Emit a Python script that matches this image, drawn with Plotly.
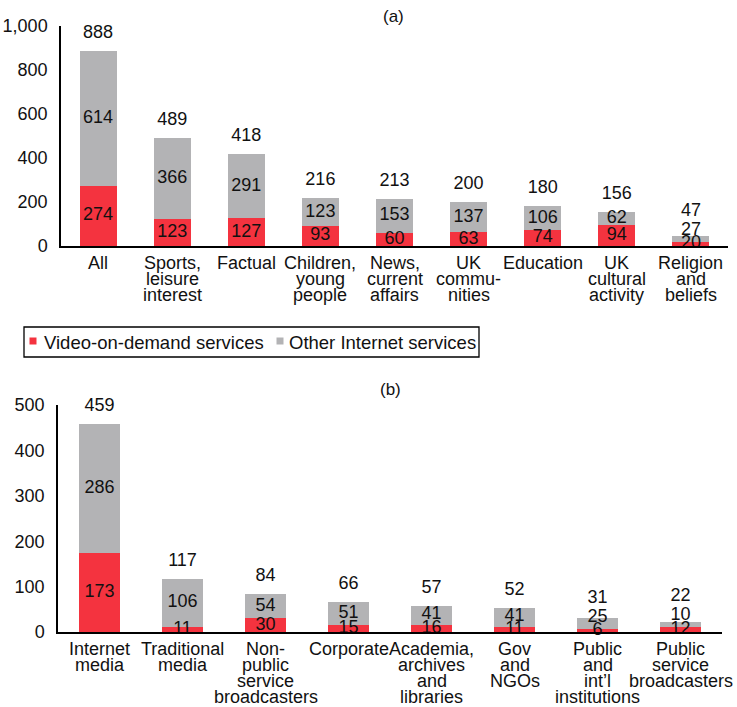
import plotly.graph_objects as go

W, H = 737, 707

# (a) programme genres
genres = ["All", "Sports,\nleisure\ninterest", "Factual", "Children,\nyoung\npeople",
          "News,\ncurrent\naffairs", "UK\ncommu-\nnities", "Education",
          "UK\ncultural\nactivity", "Religion\nand\nbeliefs"]
genre_vod = [274, 123, 127, 93, 60, 63, 74, 94, 20]
genre_other = [614, 366, 291, 123, 153, 137, 106, 62, 27]

# (b) provider types
providers = ["Internet\nmedia", "Traditional\nmedia", "Non-\npublic\nservice\nbroadcasters",
             "Corporate", "Academia,\narchives\nand\nlibraries", "Gov\nand\nNGOs",
             "Public\nand\nint’l\ninstitutions", "Public\nservice\nbroadcasters"]
provider_vod = [173, 11, 30, 15, 16, 11, 6, 12]
provider_other = [286, 106, 54, 51, 41, 41, 25, 10]

series_names = ["Video-on-demand services", "Other Internet services"]
RED = "#F4333F"
GREY = "#B3B3B5"
FONT = "Liberation Sans, Arial, Helvetica, sans-serif"
FS = 18


def px_x(p):
    return p / W


def px_y(p):
    return 1 - p / H


# pixel frames of the two plot areas: left, right, top(value max), bottom(zero)
panels = [
    dict(cats=genres, vod=genre_vod, other=genre_other, ymax=1000,
         left=61, right=728, top=26, bottom=246, tag="(a)", tag_xy=(393, 16)),
    dict(cats=providers, vod=provider_vod, other=provider_other, ymax=500,
         left=58, right=722, top=405, bottom=632, tag="(b)", tag_xy=(390, 390)),
]

fig = go.Figure()
annotations = []
layout_axes = {}

for i, p in enumerate(panels):
    sfx = "" if i == 0 else str(i + 1)
    xa, ya = "x" + sfx, "y" + sfx
    ppu = (p["bottom"] - p["top"]) / p["ymax"]  # pixels per unit

    fig.add_trace(go.Bar(x=p["cats"], y=p["vod"], name=series_names[0],
                         marker=dict(color=RED, line_width=0), xaxis=xa, yaxis=ya,
                         showlegend=False))
    fig.add_trace(go.Bar(x=p["cats"], y=p["other"], name=series_names[1],
                         marker=dict(color=GREY, line_width=0), xaxis=xa, yaxis=ya,
                         showlegend=False))

    # value labels: segment midpoints, nudged apart when they would collide
    red_y, grey_y, tot_y, tot_txt = [], [], [], []
    for v, o in zip(p["vod"], p["other"]):
        r = v / 2
        g = max(v + o / 2, r + 13.5 / ppu)
        t = max(v + o + 17.5 / ppu, g + 19 / ppu)
        red_y.append(r)
        grey_y.append(g)
        tot_y.append(t)
        tot_txt.append(str(v + o))
    for ys, txt in [(red_y, [str(v) for v in p["vod"]]),
                    (grey_y, [str(o) for o in p["other"]]),
                    (tot_y, tot_txt)]:
        fig.add_trace(go.Scatter(x=p["cats"], y=ys, text=txt, mode="text",
                                 textposition="middle center",
                                 textfont=dict(family=FONT, size=FS, color="#111111"),
                                 xaxis=xa, yaxis=ya, showlegend=False,
                                 cliponaxis=False, hoverinfo="skip"))

    # category labels, tightly stacked lines under the baseline
    for c in p["cats"]:
        for k, line in enumerate(c.split("\n")):
            annotations.append(dict(x=c, y=0, xref=xa, yref=ya, text=line,
                                    showarrow=False, xanchor="center", yanchor="middle",
                                    yshift=-(17 + 16 * k),
                                    font=dict(family=FONT, size=FS, color="#111111")))

    annotations.append(dict(x=px_x(p["tag_xy"][0]), y=px_y(p["tag_xy"][1]), xref="paper",
                            yref="paper", text=p["tag"], showarrow=False,
                            xanchor="center", yanchor="middle",
                            font=dict(family=FONT, size=17, color="#111111")))

    layout_axes["xaxis" + sfx] = dict(
        domain=[px_x(p["left"]), px_x(p["right"])], anchor=ya,
        type="category", range=[-0.5, len(p["cats"]) - 0.5], autorange=False,
        showticklabels=False, ticks="", showgrid=False,
        showline=True, linecolor="black", linewidth=1.5, zeroline=False,
        automargin=False, fixedrange=True)
    layout_axes["yaxis" + sfx] = dict(
        domain=[px_y(p["bottom"]), px_y(p["top"])], anchor=xa,
        range=[0, p["ymax"]], autorange=False, tickformat=",", ticks="",
        showgrid=False, showline=True, linecolor="black", linewidth=1.5,
        zeroline=False, ticklabelstandoff=8, automargin=False,
        tickfont=dict(family=FONT, size=FS, color="#111111"), fixedrange=True)

# legend box between the panels
shapes = [
    dict(type="rect", xref="paper", yref="paper", x0=px_x(24), x1=px_x(479),
         y0=px_y(357), y1=px_y(327), line=dict(color="black", width=1.3),
         fillcolor="rgba(0,0,0,0)"),
]
for sx, col, tx, name in [(29.5, RED, 41.5, series_names[0]),
                          (276.5, GREY, 287, series_names[1])]:
    shapes.append(dict(type="rect", xref="paper", yref="paper", x0=px_x(sx),
                       x1=px_x(sx + 7), y0=px_y(344.5), y1=px_y(337.5),
                       line=dict(width=0), fillcolor=col))
    annotations.append(dict(x=px_x(tx), y=px_y(342), xref="paper", yref="paper",
                            text=name, showarrow=False, xanchor="left",
                            yanchor="middle",
                            font=dict(family=FONT, size=18.5, color="#111111")))

fig.update_layout(
    width=W, height=H, margin=dict(l=0, r=0, t=0, b=0, pad=0, autoexpand=False),
    barmode="stack", bargap=0.5,
    paper_bgcolor="white", plot_bgcolor="white",
    font=dict(family=FONT, size=FS, color="#111111"),
    annotations=annotations, shapes=shapes, showlegend=False,
    **layout_axes,
)

fig.write_html("out.html")
